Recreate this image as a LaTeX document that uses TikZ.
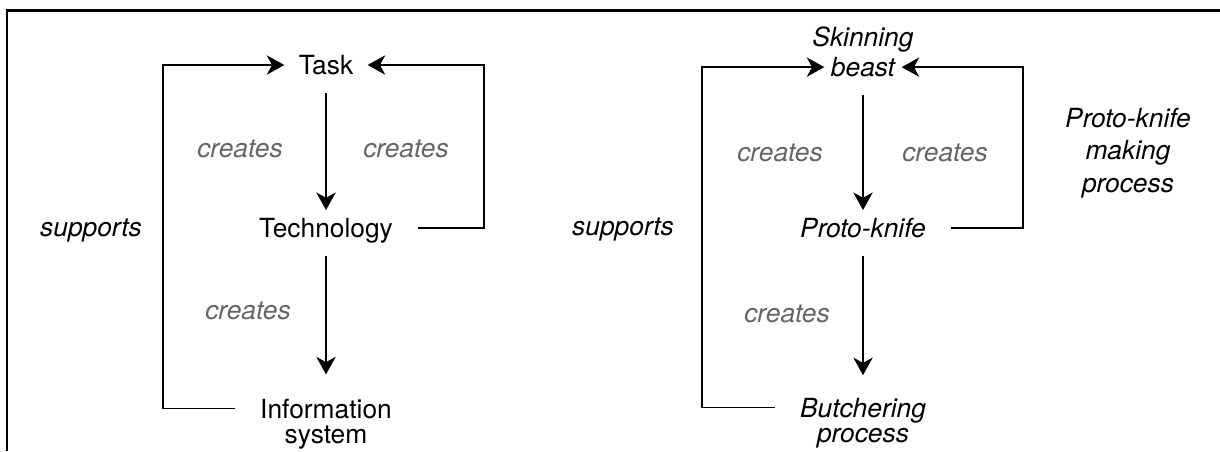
\documentclass[tikz,border=0pt]{standalone}
\usepackage{fontspec}
\setmainfont{TeX Gyre Heros}
\usetikzlibrary{arrows.meta}

\newcommand{\dfont}{\fontsize{15}{17}\selectfont}
\newcommand{\tfont}{\fontsize{15}{14}\selectfont}

\tikzset{
  txt/.style={font=\dfont, text height=11pt, text depth=0pt, inner xsep=8pt, inner ysep=4.5pt},
  txtml/.style={font=\dfont, align=center, inner xsep=8pt, inner ysep=4pt},
  lbl/.style={font=\dfont\itshape, anchor=base, inner sep=0pt},
  crt/.style={lbl, text=black!60},
  conn/.style={line width=1.1pt, -{Stealth[length=10pt,width=11pt,inset=3pt]}, shorten <=6pt}
}

\begin{document}
\begin{tikzpicture}[x=0.02cm,y=-0.02cm]
\useasboundingbox (0,0) rectangle (1220,451);
\draw[line width=1.7pt] (1220,10) -| (7,451);

% generic model
\node[txt] (task) at (326,65) {Task};
\node[txt] (tech) at (326,228) {Technology};
\node[txtml, font=\tfont, anchor=north] (info) at (326,392) {Information\\system};
\coordinate (lbarA) at (163,228);
\coordinate (rbarA) at (484,150);

\draw[conn] (task) -- (tech);
\draw[conn, shorten >=10pt] (tech) -- (info);
\draw[conn] (tech) -| (rbarA) |- (task);
\draw[conn] ([yshift=-9.4pt]info.north west) -| (lbarA) |- (task);

\node[lbl] (supA) at (91,236) {supports};
\node[crt] (crA1) at (240,157) {creates};
\node[crt] (crA2) at (406,157) {creates};
\node[crt] (crA3) at (248,319) {creates};

% proto-knife example
\node[txtml, font=\dfont\itshape, anchor=south] (beast) at (863,84) {Skinning\\beast};
\node[txt, font=\dfont\itshape] (knife) at (863,228) {Proto-knife};
\node[txtml, font=\tfont\itshape, anchor=north] (butch) at (863,391) {Butchering\\process};
\coordinate (lbarB) at (702,228);
\coordinate (rbarB) at (1023,150);

\draw[conn] (beast) -- (knife);
\draw[conn, shorten >=9pt] (knife) -- (butch);
\draw[conn] (knife) -| (rbarB) |- ([xshift=22pt,yshift=9.6pt]beast.south);
\draw[conn] ([yshift=-9.4pt]butch.north west) -| (lbarB) |- ([xshift=-22pt,yshift=9.6pt]beast.south);

\node[lbl] (supB) at (623,235) {supports};
\node[crt] (crB1) at (780,161) {creates};
\node[crt] (crB2) at (945,161) {creates};
\node[crt] (crB3) at (787,322) {creates};
\node[lbl, align=center, anchor=north, font=\fontsize{15}{18.4}\selectfont\itshape] (mkproc) at (1128,108) {Proto-knife\\making\\process};
\end{tikzpicture}
\end{document}
